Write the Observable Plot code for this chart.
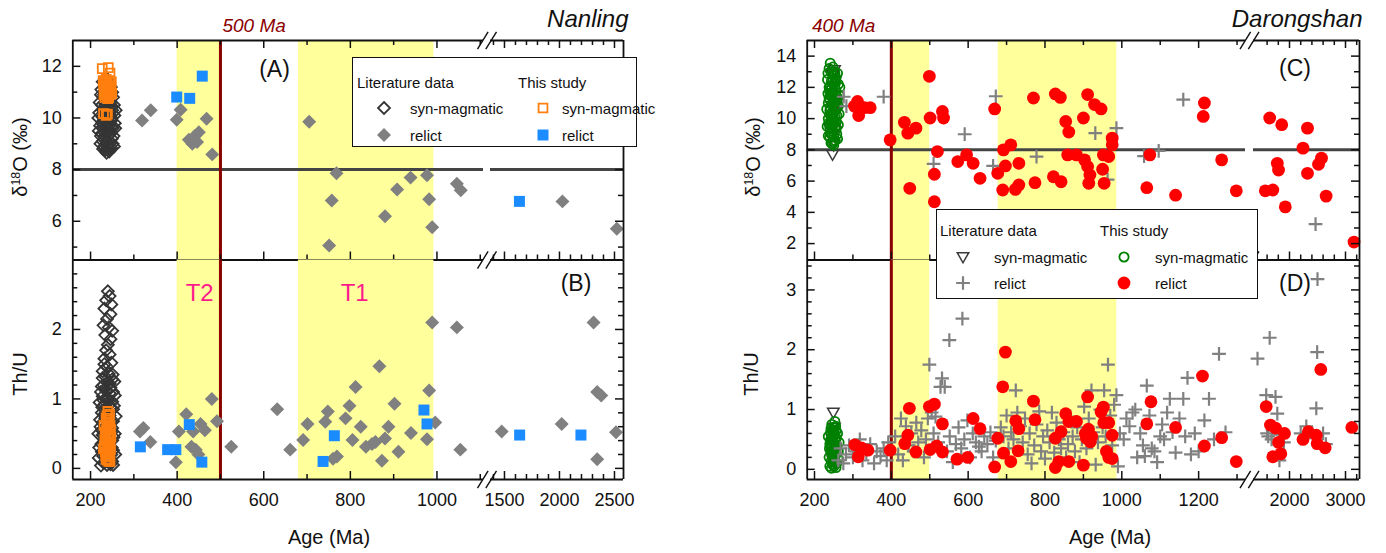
<!DOCTYPE html>
<html><head><meta charset="utf-8">
<script src="https://cdn.jsdelivr.net/npm/d3@7"></script>
<script src="https://cdn.jsdelivr.net/npm/@observablehq/plot@0.6"></script>
<style>
html,body{margin:0;padding:0;background:#fff;}
#fig{position:relative;width:1386px;height:553px;overflow:hidden;font-family:"Liberation Sans",Arial,Helvetica,sans-serif;color:#111;}
#fig svg{position:absolute;left:0;top:0;}
.lbl{position:absolute;white-space:nowrap;line-height:1;}
.box{position:absolute;background:#fff;border:1.6px solid #111;box-sizing:border-box;}
</style></head><body><div id="fig"></div>
<script>
// ---------------- DATA ----------------
// Nanling, panel A: delta18O (permil) vs age (Ma)
const litSynA = [[228,11.4],[232,11.2],[236,11.0],[240,11.3],[244,10.9],[230,10.8],[238,10.7],[246,10.6],[226,10.5],[234,10.5],[242,10.4],[250,10.3],[229,10.3],[237,10.2],[245,10.1],[232,10.0],[240,10.0],[248,9.9],[227,9.8],[235,9.8],[243,9.7],[251,9.6],[230,9.6],[238,9.5],[246,9.4],[233,9.3],[241,9.3],[249,9.2],[228,9.1],[236,9.1],[244,9.0],[231,8.9],[239,8.9],[247,8.85],[234,8.75],[242,8.8],[237,8.65],[245,9.5],[233,10.6],[241,10.8],[248,10.0],[226,9.4],[251,9.0],[239,11.5],[235,11.45],[220,10.2],[222,9.7],[224,10.9],[254,10.5],[256,9.8],[253,9.3],[219,9.5],[221,10.6],[255,10.1],[252,10.8],[223,9.0],[257,9.6],[225,11.1],[250,11.0],[218,10.0],[258,10.3],[224,9.3],[254,8.9],[229,8.8],[247,11.2],[231,10.9],[243,8.7],[236,9.6],[240,9.75],[244,10.25],[238,10.35],[232,9.45],[227,10.05],[249,9.65],[234,10.15],[242,9.85],[246,10.45],[230,9.9],[237,9.95]];
const synA = [[227,11.91],[241,11.95],[245,11.74],[233,11.4],[236,11.2],[240,11.1],[243,11.0],[235,10.9],[238,10.85],[242,10.8],[246,11.05],[230,11.3],[244,11.35],[230,10.17],[236,10.1],[239,10.15],[229,11.45],[232,11.25],[234,11.05],[237,11.35],[239,10.95],[241,11.25],[243,11.45],[245,10.9],[247,11.2],[249,10.95],[231,10.9],[236,11.5],[244,11.15],[248,11.4],[233,10.8],[240,10.75]];
const litRelictA = [[319,9.9],[339,10.3],[399,9.93],[408,10.32],[468,9.97],[427,9.16],[440,9.29],[450,9.45],[435,9.0],[446,9.07],[481,8.59],[705,9.85],[768,7.86],[757,6.8],[751,5.06],[880,6.19],[908,7.23],[939,7.69],[977,7.78],[982,6.85],[989,5.77],[1046,7.45],[1055,7.2],[2027,6.77],[2521,5.71]];
const relictA = [[399,10.81],[429,10.76],[458,11.62],[1636,6.77]];
// Nanling, panel B: Th/U vs age (Ma)
const litSynB = [[240,2.55],[244,2.48],[236,2.42],[248,2.36],[232,2.3],[246,2.22],[238,2.15],[230,2.06],[242,2.03],[250,1.98],[234,1.92],[246,1.86],[240,1.78],[236,1.7],[244,1.64],[232,1.58],[248,1.52],[238,1.46],[228,1.4],[242,1.36],[234,1.32],[250,1.28],[238,1.24],[230,1.2],[246,1.16],[236,1.12],[244,1.08],[228,1.04],[240,1.0],[250,0.96],[232,0.92],[246,0.88],[238,0.84],[226,0.8],[244,0.76],[234,0.72],[252,0.68],[230,0.64],[242,0.6],[236,0.56],[248,0.52],[228,0.48],[240,0.44],[250,0.4],[232,0.36],[244,0.32],[238,0.28],[226,0.24],[248,0.2],[234,0.16],[242,0.12],[230,0.08],[238,0.05],[246,0.06],[252,0.26],[228,1.3],[252,1.1],[226,0.55],[252,0.85],[232,1.5],[250,0.1],[220,0.3],[222,0.7],[224,1.1],[256,0.5],[254,0.9],[257,0.2],[219,0.15],[221,0.95],[255,1.25],[253,0.45],[223,0.6],[258,0.75],[225,0.35],[251,1.35],[218,0.5],[256,1.05],[229,0.18],[247,0.68],[231,0.58],[243,0.92],[236,0.33],[240,0.62],[244,1.22],[238,1.02],[232,0.78],[227,0.88],[249,0.3],[234,1.15],[242,0.42],[246,0.14],[230,0.98],[237,0.72],[235,0.1],[245,0.38],[228,0.66],[250,0.58],[241,0.25],[233,0.48],[239,0.15],[226,1.18],[252,0.05],[224,0.04]];
const synB = [[240,0.82],[244,0.78],[236,0.72],[242,0.66],[238,0.6],[246,0.56],[234,0.52],[240,0.48],[244,0.44],[236,0.4],[242,0.36],[232,0.32],[238,0.3],[246,0.27],[234,0.24],[240,0.2],[244,0.16],[236,0.13],[242,0.1],[230,0.28],[238,0.76],[241,0.7],[245,0.62],[237,0.56],[243,0.5],[235,0.46],[239,0.38],[245,0.34],[233,0.42],[241,0.28],[237,0.22],[243,0.2],[239,0.12],[245,0.1],[235,0.18],[247,0.45],[231,0.62],[240,0.66]];
const litRelictB = [[314,0.53],[322,0.58],[338,0.38],[397,0.09],[404,0.53],[421,0.78],[437,0.53],[433,0.31],[443,0.27],[454,0.64],[464,0.55],[449,0.2],[480,1.0],[492,0.68],[525,0.31],[631,0.85],[661,0.27],[691,0.41],[701,0.64],[742,0.67],[748,0.82],[760,0.14],[769,0.17],[789,0.72],[798,0.9],[805,0.41],[812,1.17],[824,0.6],[836,0.31],[850,0.35],[858,0.38],[867,1.47],[873,0.11],[880,0.43],[888,0.6],[902,0.93],[911,0.24],[940,0.51],[977,0.42],[982,1.12],[989,2.1],[996,0.66],[1046,2.03],[1054,0.27],[1475,0.53],[2020,0.64],[2310,2.1],[2343,1.1],[2380,1.05],[2343,0.13],[2514,0.52]];
const relictB = [[315,0.31],[378,0.27],[397,0.27],[428,0.63],[457,0.09],[737,0.1],[763,0.47],[970,0.84],[977,0.64],[1638,0.48],[2195,0.48]];
// Darongshan, panel C: delta18O vs age
const litSynC = [[247,7.7],[250,8.3],[244,8.8],[254,9.2],[248,9.6],[242,10.0],[256,10.4],[246,10.8],[252,11.2],[244,11.6],[250,12.0],[254,12.4],[248,12.8],[252,13.1],[258,11.0],[240,9.4]];
const synC = [[241,13.55],[252,13.0],[247,12.8],[256,12.6],[244,12.4],[250,12.2],[238,12.0],[254,11.9],[246,11.7],[242,11.5],[258,11.4],[250,11.2],[236,11.0],[246,10.9],[254,10.7],[240,10.5],[250,10.4],[258,10.2],[236,10.0],[244,9.9],[252,9.8],[248,9.6],[240,9.4],[256,9.3],[244,9.1],[250,8.9],[240,8.8],[254,8.6],[246,8.4],[250,8.3],[242,10.2],[256,11.8],[238,11.3],[248,10.0],[253,12.9],[245,9.6],[258,9.0],[241,12.1],[234,12.5],[264,11.5],[262,10.8],[233,9.5],[266,12.0],[236,8.9],[262,9.6],[235,11.6],[260,12.9],[238,13.2],[264,10.3],[232,10.6],[260,8.7],[248,13.3],[243,13.0],[257,9.8],[239,11.8],[253,10.1],[245,12.0],[249,11.5],[241,10.7],[255,9.5],[247,9.2],[237,9.7],[251,8.55],[259,11.1],[243,8.45],[262,12.2],[235,12.9],[255,12.3],[244,10.35],[252,11.05],[240,11.2],[248,12.45],[256,10.55],[242,9.05],[250,9.75],[246,11.35]];
const litRelictC = [[276,11.4],[283,10.8],[380,11.4],[510,7.1],[591,9.0],[665,6.97],[672,11.43],[778,7.57],[931,9.07],[986,9.39],[963,6.1],[1058,7.6],[1096,7.93],[1160,11.21],[2465,3.24]];
const relictC = [[304,10.8],[312,11.1],[315,10.2],[330,10.7],[345,10.7],[397,8.64],[434,9.76],[443,9.07],[464,9.39],[448,5.54],[499,12.71],[501,10.04],[520,7.89],[512,6.44],[512,4.68],[533,10.46],[536,10.04],[573,7.25],[596,7.68],[613,7.14],[631,6.18],[669,10.62],[677,6.5],[690,5.43],[692,8.0],[697,6.97],[711,8.32],[723,5.47],[732,5.75],[732,7.14],[770,11.32],[774,5.9],[827,11.58],[840,11.36],[854,9.82],[862,9.14],[822,6.28],[842,5.96],[859,7.68],[882,7.68],[900,10.04],[911,11.54],[929,10.9],[946,10.62],[903,7.36],[911,6.93],[917,6.39],[914,5.86],[950,6.76],[952,7.68],[966,7.57],[975,8.32],[975,8.75],[954,5.86],[1065,5.58],[1073,7.68],[1140,5.1],[1212,10.14],[1215,11.0],[1260,7.36],[1298,5.38],[1568,5.38],[1702,5.43],[1646,10.04],[1861,9.61],[1782,7.14],[1804,6.71],[1925,4.35],[2241,8.11],[2321,9.39],[2321,6.5],[2518,7.08],[2571,7.47],[2654,5.04],[3152,2.1]];
// Darongshan, panel D: Th/U vs age
const litSynD = [[249,0.95],[252,0.7],[246,0.5],[254,0.3],[248,0.15],[250,0.05]];
const synD = [[245,0.75],[253,0.8],[250,0.7],[242,0.62],[256,0.65],[248,0.58],[244,0.5],[254,0.52],[250,0.45],[246,0.4],[252,0.36],[242,0.3],[256,0.28],[248,0.24],[250,0.18],[244,0.14],[254,0.12],[247,0.08],[251,0.05],[258,0.4],[240,0.42],[246,0.22],[252,0.6],[249,0.33],[236,0.55],[262,0.3],[260,0.6],[238,0.2],[264,0.45],[240,0.05],[258,0.1],[243,0.68],[255,0.72],[247,0.65],[251,0.25],[245,0.3],[253,0.42],[241,0.48],[257,0.52],[249,0.12],[239,0.35],[261,0.18],[244,0.02],[256,0.03],[248,0.47],[252,0.15],[246,0.55],[250,0.62],[243,0.38],[254,0.22]];
const litRelictD = [[262,0.15],[268,0.35],[275,0.1],[282,0.25],[290,0.4],[300,0.2],[308,0.3],[318,0.5],[325,0.15],[335,0.28],[345,0.42],[355,0.1],[362,0.3],[372,0.22],[380,0.35],[388,0.15],[392,0.45],[410,0.55],[418,0.25],[425,0.85],[430,0.15],[438,0.72],[445,0.4],[452,0.6],[458,0.3],[465,0.78],[470,0.45],[478,0.65],[485,0.2],[490,0.5],[495,0.85],[505,0.95],[510,0.6],[515,0.88],[522,0.45],[528,1.38],[532,1.52],[539,1.38],[499,1.75],[551,2.16],[585,2.52],[545,0.3],[552,0.55],[560,0.12],[568,0.42],[575,0.7],[582,0.35],[590,0.5],[598,0.82],[605,0.2],[612,0.6],[620,0.45],[628,0.38],[635,0.3],[642,0.55],[650,0.42],[658,0.62],[665,0.2],[672,0.48],[685,0.7],[692,0.55],[700,0.9],[705,0.35],[712,0.62],[718,0.5],[724,1.32],[728,0.95],[735,0.72],[742,0.45],[748,0.85],[755,0.25],[760,0.6],[765,0.1],[772,0.4],[778,0.75],[785,0.97],[790,0.3],[795,0.55],[800,0.18],[806,0.65],[812,0.45],[818,0.95],[824,0.28],[830,0.78],[836,0.5],[842,0.35],[848,0.62],[855,0.2],[860,0.42],[866,0.88],[872,0.55],[878,0.3],[884,0.7],[890,0.12],[896,0.5],[902,1.05],[908,0.35],[914,0.85],[921,1.32],[926,0.62],[932,0.08],[938,0.45],[944,1.0],[950,0.7],[954,1.32],[958,0.55],[964,1.75],[970,0.9],[975,0.4],[980,1.08],[986,1.24],[990,0.05],[995,0.6],[1005,0.5],[1012,0.85],[1020,0.72],[1028,0.95],[1035,1.0],[1040,0.2],[1048,0.6],[1055,0.4],[1060,0.22],[1065,1.4],[1072,0.9],[1078,0.35],[1085,0.3],[1092,0.12],[1100,0.55],[1105,0.75],[1110,0.5],[1118,0.95],[1125,1.18],[1132,0.62],[1140,0.28],[1150,0.85],[1160,1.18],[1165,0.55],[1171,1.53],[1180,0.25],[1190,0.6],[1200,0.3],[1215,0.82],[1227,1.18],[1240,0.5],[1253,1.93],[1270,0.62],[1429,1.85],[1584,1.24],[1600,0.6],[1620,0.55],[1646,2.2],[1680,0.5],[1700,0.65],[1750,1.21],[1782,0.93],[1820,0.15],[1850,0.58],[1900,0.45],[2200,0.6],[2300,0.72],[2420,0.52],[2478,1.02],[2494,1.96],[2500,3.18],[2600,0.6],[2650,0.42]];
const relictD = [[305,0.41],[314,0.21],[322,0.36],[339,0.32],[397,0.32],[435,0.43],[443,0.57],[447,1.02],[464,0.29],[499,1.05],[512,1.09],[501,0.33],[518,0.39],[533,0.29],[533,0.76],[571,0.17],[599,0.2],[613,0.85],[631,0.68],[669,0.04],[677,0.52],[690,1.38],[697,1.96],[692,0.27],[711,0.13],[724,0.81],[732,0.68],[730,0.31],[770,1.14],[774,0.83],[827,0.03],[836,0.13],[862,0.13],[827,0.52],[842,0.63],[854,0.93],[862,0.8],[882,0.8],[900,0.07],[911,1.21],[905,0.6],[913,0.67],[918,0.46],[922,0.55],[908,0.52],[946,0.96],[952,1.04],[953,0.78],[966,0.78],[960,0.3],[966,0.2],[975,0.18],[975,0.57],[1065,0.76],[1076,1.13],[1140,0.7],[1210,1.56],[1215,0.39],[1260,0.53],[1298,0.13],[1584,1.05],[1660,0.74],[1750,0.69],[1702,0.21],[1845,0.26],[1804,0.45],[1911,0.6],[2241,0.5],[2336,0.63],[2478,0.57],[2494,0.43],[2637,0.36],[2559,1.67],[3113,0.7]];

// Shaded age bands (T2, T1), reference ages and threshold
const bandsNanling = [[400, 500], [680, 993]];
const bandsDarong = [[400, 500], [678, 987]];
const refAgeNanling = 500, refAgeDarong = 400;
const d18Othreshold = 8;

// Axis domains (age, broken) and ticks
const ageDomainL = [159, 1107.5, 1373, 2582];
const ageDomainR = [181, 1322, 1357, 3250];
const xLabelsL = [200, 400, 600, 800, 1000, 1500, 2000, 2500];
const xMinorL = [300, 500, 700, 900, 1100, 1400, 1600, 1700, 1800, 1900, 2100, 2200, 2300, 2400];
const xLabelsR = [200, 400, 600, 800, 1000, 1200, 2000, 3000];
const xMinorR = [300, 500, 700, 900, 1100, 1300, 1600, 1800, 2200, 2400, 2600, 2800, 3200];
const yDomA = [4.5, 13], yLabelsA = [6, 8, 10, 12], yMinorA = [5, 7, 9, 11];
const yDomB = [-0.16, 3.0], yLabelsB = [0, 1, 2], yMinorB = [0.2,0.4,0.6,0.8,1.2,1.4,1.6,1.8,2.2,2.4,2.6,2.8];
const yDomC = [0.95, 15], yLabelsC = [2, 4, 6, 8, 10, 12, 14], yMinorC = [3, 5, 7, 9, 11, 13];
const yDomD = [-0.17, 3.5], yLabelsD = [0, 1, 2, 3], yMinorD = [0.2,0.4,0.6,0.8,1.2,1.4,1.6,1.8,2.2,2.4,2.6,2.8,3.2,3.4];

// ---------------- LAYOUT / STYLE ----------------
const W = 1386, H = 553;
const INK = "#111";
const FONT = '"Liberation Sans", Arial, Helvetica, sans-serif';
const YELLOW = "#ffff9c", DARKRED = "#8b0000";
const xrL = [72.3, 483, 490, 623], xrR = [806.7, 1245, 1253, 1359];
const yTop = 40, yMid = 259.5, yBot = 479;

const breakSym = {draw(ctx) { ctx.moveTo(-9.5, 8.7); ctx.lineTo(1.1, -8.7); ctx.moveTo(-1.2, 8.7); ctx.lineTo(9.5, -8.7); }};
const triDown = {draw(ctx, size) { const s = Math.sqrt(size / Math.PI) * 1.25; ctx.moveTo(-s, -s * 0.75); ctx.lineTo(s, -s * 0.75); ctx.lineTo(0, s); ctx.closePath(); }};

const px = d => d[0], py = d => d[1];

function scaffold(p) {
  const innerH = p.bot - p.top, innerW = p.xr[3] - p.xr[0];
  const K = {stroke: INK, strokeWidth: 1.5};
  const m = [];
  for (const [arr, len] of [[p.xMaj, 8], [p.xMin, 5]]) {
    if (p.ticksBottom) m.push(Plot.ruleX(arr, {x: d => d, insetTop: innerH - len, ...K}));
    if (p.ticksTop) m.push(Plot.ruleX(arr, {x: d => d, insetBottom: innerH - len, ...K}));
  }
  for (const [arr, len] of [[p.yMaj, 8], [p.yMin, 5]]) {
    m.push(Plot.ruleY(arr, {y: d => d, insetRight: innerW - len, ...K}));
    m.push(Plot.ruleY(arr, {y: d => d, insetLeft: innerW - len, ...K}));
  }
  m.push(Plot.ruleX([p.xd[0], p.xd[3]], {x: d => d, stroke: INK, strokeWidth: 1.8}));
  const edges = [];
  if (p.lineTop) edges.push(p.yd[1]);
  if (p.lineBottom) edges.push(p.yd[0]);
  const gapMid = (p.xd[1] + p.xd[2]) / 2;
  for (const e of edges) {
    m.push(Plot.ruleY([e], {y: d => d, x1: p.xd[0], x2: p.xd[1], stroke: INK, strokeWidth: 1.8}));
    m.push(Plot.ruleY([e], {y: d => d, x1: p.xd[2], x2: p.xd[3], stroke: INK, strokeWidth: 1.8}));
    m.push(Plot.dot([[gapMid, e]], {x: px, y: py, symbol: breakSym, fill: "none", stroke: INK, strokeWidth: 1.4}));
  }
  if (p.xLabels) m.push(Plot.axisX(p.xLabels, {anchor: "bottom", tickSize: 0, tickPadding: 13.5, fontSize: 18, fill: INK, tickFormat: d => String(d), label: null}));
  m.push(Plot.axisY(p.yMaj, {anchor: "left", tickSize: 0, tickPadding: 11, fontSize: 18, fill: INK, tickFormat: d => String(d), label: null}));
  return m;
}

function panel(p, dataMarks) {
  return Plot.plot({
    width: W, height: H,
    marginLeft: p.xr[0], marginRight: W - p.xr[3], marginTop: p.top, marginBottom: H - p.bot,
    x: {type: "linear", domain: p.xd, range: p.xr, axis: null, label: null},
    y: {type: "linear", domain: p.yd, range: [p.bot, p.top], axis: null, label: null},
    style: {background: "transparent", fontFamily: FONT, overflow: "visible"},
    marks: [
      Plot.rect(p.bands, {x1: px, x2: py, fill: YELLOW}),
      ...dataMarks,
      ...scaffold(p)
    ]
  });
}

function threshold(xd) {
  return [
    Plot.ruleY([d18Othreshold], {y: d => d, x1: xd[0], x2: xd[1], stroke: "#444", strokeWidth: 3}),
    Plot.ruleY([d18Othreshold], {y: d => d, x1: xd[2], x2: xd[3], stroke: "#444", strokeWidth: 3})
  ];
}

const fig = document.getElementById("fig");

// Panel A
const pA = {xd: ageDomainL, xr: xrL, yd: yDomA, top: yTop, bot: yMid, bands: bandsNanling,
  xMaj: [200,400,600,800,1000,1500,2000,2500], xMin: xMinorL, yMaj: yLabelsA, yMin: yMinorA,
  ticksTop: true, ticksBottom: true, lineTop: true, lineBottom: true};
fig.append(panel(pA, [
  ...threshold(ageDomainL),
  Plot.ruleX([refAgeNanling], {x: d => d, stroke: DARKRED, strokeWidth: 3}),
  Plot.dot(litSynA, {x: px, y: py, symbol: "diamond2", r: 5.4, fill: "none", stroke: "#353535", strokeWidth: 1.8}),
  Plot.dot(synA, {x: px, y: py, symbol: "square", r: 5, fill: "none", stroke: "#ff7f0e", strokeWidth: 1.8}),
  Plot.dot(litRelictA, {x: px, y: py, symbol: "diamond2", r: 6.3, fill: "#808080"}),
  Plot.dot(relictA, {x: px, y: py, symbol: "square", r: 6.2, fill: "#1a8cff"}),
  Plot.text([refAgeNanling], {x: d => d, frameAnchor: "top", lineAnchor: "middle", text: d => `${d} Ma`, textAnchor: "start", dx: 2, dy: -15, fontSize: 19, fontStyle: "italic", fill: DARKRED}),
  Plot.text(["Nanling"], {frameAnchor: "top-right", lineAnchor: "middle", text: d => d, textAnchor: "end", dx: 5, dy: -21, fontSize: 24, fontStyle: "italic", fill: INK})
]));

// Panel B
const pB = {xd: ageDomainL, xr: xrL, yd: yDomB, top: yMid, bot: yBot, bands: bandsNanling,
  xMaj: [200,400,600,800,1000,1500,2000,2500], xMin: xMinorL, yMaj: yLabelsB, yMin: yMinorB,
  ticksTop: false, ticksBottom: true, lineTop: false, lineBottom: true, xLabels: xLabelsL};
fig.append(panel(pB, [
  Plot.ruleX([refAgeNanling], {x: d => d, stroke: DARKRED, strokeWidth: 3}),
  Plot.text([["T2", 452], ["T1", 810]], {x: py, y: () => 2.52, text: px, fontSize: 24, fill: "#ff1a8c"}),
  Plot.dot(litSynB, {x: px, y: py, symbol: "diamond2", r: 5.4, fill: "none", stroke: "#353535", strokeWidth: 1.8}),
  Plot.dot(synB, {x: px, y: py, symbol: "square", r: 5, fill: "none", stroke: "#ff7f0e", strokeWidth: 1.8}),
  Plot.dot(litRelictB, {x: px, y: py, symbol: "diamond2", r: 6.3, fill: "#808080"}),
  Plot.dot(relictB, {x: px, y: py, symbol: "square", r: 6.2, fill: "#1a8cff"})
]));

// Panel C
const pC = {xd: ageDomainR, xr: xrR, yd: yDomC, top: yTop, bot: yMid, bands: bandsDarong,
  xMaj: [200,400,600,800,1000,1200,2000,3000], xMin: xMinorR, yMaj: yLabelsC, yMin: yMinorC,
  ticksTop: true, ticksBottom: true, lineTop: true, lineBottom: true};
fig.append(panel(pC, [
  ...threshold(ageDomainR),
  Plot.ruleX([refAgeDarong], {x: d => d, stroke: DARKRED, strokeWidth: 3}),
  Plot.dot(litSynC, {x: px, y: py, symbol: triDown, r: 4.6, fill: "none", stroke: "#3a3a3a", strokeWidth: 1.5}),
  Plot.dot(synC, {x: px, y: py, symbol: "circle", r: 4.6, fill: "none", stroke: "#008000", strokeWidth: 1.8}),
  Plot.dot(litRelictC, {x: px, y: py, symbol: "plus", r: 4.5, fill: "none", stroke: "#808080", strokeWidth: 2.2}),
  Plot.dot(relictC, {x: px, y: py, symbol: "circle", r: 6.4, fill: "#ff0000"}),
  Plot.text([refAgeDarong], {x: d => d, frameAnchor: "top", lineAnchor: "middle", text: d => `${d} Ma`, textAnchor: "end", dx: -16, dy: -15, fontSize: 19, fontStyle: "italic", fill: DARKRED}),
  Plot.text(["Darongshan"], {frameAnchor: "top-right", lineAnchor: "middle", text: d => d, textAnchor: "end", dx: 3, dy: -21, fontSize: 24, fontStyle: "italic", fill: INK})
]));

// Panel D
const pD = {xd: ageDomainR, xr: xrR, yd: yDomD, top: yMid, bot: yBot, bands: bandsDarong,
  xMaj: [200,400,600,800,1000,1200,2000,3000], xMin: xMinorR, yMaj: yLabelsD, yMin: yMinorD,
  ticksTop: false, ticksBottom: true, lineTop: false, lineBottom: true, xLabels: xLabelsR};
fig.append(panel(pD, [
  Plot.ruleX([refAgeDarong], {x: d => d, stroke: DARKRED, strokeWidth: 3}),
  Plot.dot(litSynD, {x: px, y: py, symbol: triDown, r: 4.6, fill: "none", stroke: "#3a3a3a", strokeWidth: 1.5}),
  Plot.dot(synD, {x: px, y: py, symbol: "circle", r: 4.6, fill: "none", stroke: "#008000", strokeWidth: 1.8}),
  Plot.dot(litRelictD, {x: px, y: py, symbol: "plus", r: 4.5, fill: "none", stroke: "#808080", strokeWidth: 2.2}),
  Plot.dot(relictD, {x: px, y: py, symbol: "circle", r: 6.4, fill: "#ff0000"})
]));

// ---------------- HTML TEXT / LEGENDS ----------------
function label(html, x, y, o = {}) {
  const el = document.createElement("div");
  el.className = "lbl";
  el.innerHTML = html;
  el.style.left = x + "px"; el.style.top = y + "px";
  el.style.fontSize = (o.size || 15) + "px";
  if (o.color) el.style.color = o.color;
  if (o.italic) el.style.fontStyle = "italic";
  const tx = o.anchor === "middle" ? "-50%" : o.anchor === "end" ? "-100%" : "0";
  el.style.transform = `translate(${tx},-50%)` + (o.rotate ? " rotate(-90deg)" : "");
  fig.append(el);
  return el;
}
// axis titles
label("&delta;<sup style='font-size:0.62em;vertical-align:0.55em;line-height:0'>18</sup>O (&permil;)", 20, 157, {size: 20, anchor: "middle", rotate: true});
label("Th/U", 20, 374, {size: 20, anchor: "middle", rotate: true});
label("&delta;<sup style='font-size:0.62em;vertical-align:0.55em;line-height:0'>18</sup>O (&permil;)", 753, 157, {size: 20, anchor: "middle", rotate: true});
label("Th/U", 751, 374, {size: 20, anchor: "middle", rotate: true});
label("Age (Ma)", 329, 537, {size: 20, anchor: "middle"});
label("Age (Ma)", 1110, 537, {size: 20, anchor: "middle"});
// panel letters
label("(A)", 274.5, 69, {size: 23, anchor: "middle"});
label("(B)", 576, 282.5, {size: 23, anchor: "middle"});
label("(C)", 1295, 67.5, {size: 23, anchor: "middle"});
label("(D)", 1295, 282.5, {size: 23, anchor: "middle"});

function marker(sym, size, x, y, style) {
  const s = d3.create("svg").attr("width", 24).attr("height", 24)
    .style("position", "absolute").style("left", (x - 12) + "px").style("top", (y - 12) + "px");
  s.append("path").attr("transform", "translate(12,12)").attr("d", d3.symbol(sym, size)()).attr("fill", style.fill || "none")
    .attr("stroke", style.stroke || "none").attr("stroke-width", style.sw || 0);
  fig.append(s.node());
}
function legend(box, cols, rows) {
  const b = document.createElement("div");
  b.className = "box";
  Object.assign(b.style, {left: box[0] + "px", top: box[1] + "px", width: (box[2] - box[0]) + "px", height: (box[3] - box[1]) + "px"});
  fig.append(b);
  label("Literature data", cols[0], rows[0], {size: 15});
  label("This study", cols[3], rows[0], {size: 15});
}
// Nanling legend
legend([352, 56.5, 637, 147], [357, 383.7, 410, 518, 543, 562], [82, 108, 135]);
marker(d3.symbolDiamond2, 91.6, 383.7, 108, {stroke: "#353535", sw: 1.8});
label("syn-magmatic", 410, 108);
marker(d3.symbolSquare, 78.5, 543, 108, {stroke: "#ff7f0e", sw: 1.8});
label("syn-magmatic", 562, 108);
marker(d3.symbolDiamond2, 124.7, 383.7, 135, {fill: "#808080"});
label("relict", 410, 135);
marker(d3.symbolSquare, 120.8, 543, 135, {fill: "#1a8cff"});
label("relict", 562, 135);
// Darongshan legend
legend([935.5, 209, 1258, 298.5], [940, 963, 994, 1100, 1124, 1155], [230, 257, 283]);
marker(triDown, 66.5, 963, 257, {stroke: "#3a3a3a", sw: 1.5});
label("syn-magmatic", 994, 257);
marker(d3.symbolCircle, 66.5, 1124, 257, {stroke: "#008000", sw: 1.8});
label("syn-magmatic", 1155, 257);
marker(d3.symbolPlus, 63.6, 963, 283, {stroke: "#808080", sw: 2.2});
label("relict", 994, 283);
marker(d3.symbolCircle, 128.7, 1124, 283, {fill: "#ff0000"});
label("relict", 1155, 283);
</script></body></html>
